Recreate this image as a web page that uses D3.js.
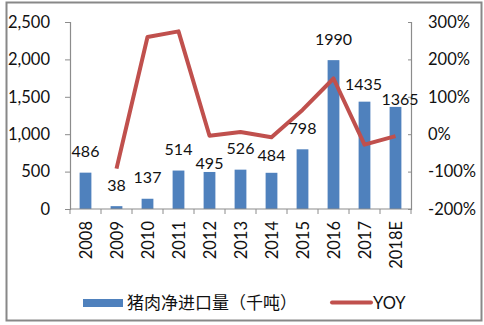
<!DOCTYPE html>
<html><head><meta charset="utf-8">
<script src="https://cdn.jsdelivr.net/npm/d3@7/dist/d3.min.js"></script>
<style>html,body{margin:0;padding:0;background:#fff;}svg{display:block;}</style>
</head><body><svg id="c" width="484" height="325"></svg>
<script>
const categories = ["2008","2009","2010","2011","2012","2013","2014","2015","2016","2017","2018E"];
const imports = [486,38,137,514,495,526,484,798,1990,1435,1365];
const yoy = [null,-92,260,275,-4,6,-8,65,149,-28,-5];
const leftTicks = [0,500,1000,1500,2000,2500];
const rightTicks = [-200,-100,0,100,200,300];
const seriesNames = ["猪肉净进口量（千吨）","YOY"];

const svg = d3.select("#c");
const font = "Lato, 'Liberation Sans', Arial, sans-serif";
const cjk = "'Noto Sans CJK SC', sans-serif";
const barColor = "#4F81BD", lineColor = "#C0504D", axisColor = "#8c8c8c";

svg.append("rect").attr("x",6.5).attr("y",2.5).attr("width",475).attr("height",318)
  .attr("fill","#fff").attr("stroke","#888").attr("stroke-width",2);

const x0 = 70, x1 = 411, yTop = 22, yBot = 209;
const x = d3.scaleBand().domain(categories).range([x0,x1]).paddingInner(0.62).paddingOuter(0.31);
const xc = d3.scalePoint().domain(categories).range([x0,x1]).padding(0.5);
const yL = d3.scaleLinear().domain([0,2500]).range([yBot,yTop]);
const yR = d3.scaleLinear().domain([-200,300]).range([yBot,yTop]);

// left axis
const gl = svg.append("g").attr("transform",`translate(${x0},0)`)
  .call(d3.axisLeft(yL).tickValues(leftTicks).tickFormat(d3.format(",")).tickSize(5).tickPadding(15));
// right axis
const gr = svg.append("g").attr("transform",`translate(${x1},0)`)
  .call(d3.axisRight(yR).tickValues(rightTicks).tickFormat(d=>d+"%").tickSize(-3).tickPadding(17));
[gl,gr].forEach(g=>{
  g.select(".domain").attr("stroke",axisColor).attr("stroke-width",1.2);
  g.selectAll(".tick line").attr("stroke",axisColor);
  g.selectAll(".tick text").attr("font-family",font).attr("font-size",16.5).attr("fill","#111");
});

// bars
svg.append("g").selectAll("rect").data(imports).join("rect")
  .attr("x",(d,i)=>x(categories[i])).attr("width",x.bandwidth())
  .attr("y",d=>yL(d)).attr("height",d=>yBot-yL(d)).attr("fill",barColor);

// x axis
const gx = svg.append("g").attr("transform",`translate(0,${yBot})`)
  .call(d3.axisBottom(xc).tickSize(0).tickPadding(0));
gx.select(".domain").remove();
svg.append("line").attr("x1",x0).attr("x2",x1).attr("y1",yBot).attr("y2",yBot).attr("stroke",axisColor).attr("stroke-width",1.2);
svg.append("g").selectAll("line").data(d3.range(categories.length+1)).join("line")
  .attr("x1",i=>x0+i*(x1-x0)/categories.length).attr("x2",i=>x0+i*(x1-x0)/categories.length)
  .attr("y1",yBot).attr("y2",yBot+5).attr("stroke",axisColor);
gx.selectAll(".tick text").attr("font-family",font).attr("font-size",16.5).attr("fill","#111")
  .attr("text-anchor","end").attr("dy","0.35em")
  .attr("transform","translate(0,12) rotate(-90)");

// line
const line = d3.line().defined(d=>d!==null).x((d,i)=>xc(categories[i])).y(d=>yR(d));
svg.append("path").datum(yoy).attr("d",line).attr("fill","none")
  .attr("stroke",lineColor).attr("stroke-width",4).attr("stroke-linejoin","round");

// data labels (Excel-style placement nudges)
const labelShift = {"2012":[0,12],"2014":[0,4],"2017":[-1,4],"2018E":[4.5,14]};
svg.append("g").selectAll("text").data(imports).join("text")
  .attr("x",(d,i)=>xc(categories[i]) + (labelShift[categories[i]]||[0,0])[0])
  .attr("y",(d,i)=>yL(d)-21+(labelShift[categories[i]]||[0,0])[1])
  .attr("dy","0.35em").attr("text-anchor","middle")
  .attr("font-family",font).attr("font-size",16).attr("fill","#111").text(d=>d);

// legend
const lg = svg.append("g");
lg.append("rect").attr("x",83).attr("y",299).attr("width",40).attr("height",8).attr("fill",barColor);
lg.append("text").attr("x",127).attr("y",303).attr("dy","0.35em").attr("font-family",cjk)
  .attr("font-size",17).attr("fill","#111").text(seriesNames[0]);
lg.append("line").attr("x1",332).attr("x2",371).attr("y1",302.5).attr("y2",302.5)
  .attr("stroke",lineColor).attr("stroke-width",4).attr("stroke-linecap","round");
lg.append("text").attr("x",373).attr("y",303).attr("dy","0.35em").attr("font-family",font)
  .attr("font-size",16.5).attr("fill","#111").text(seriesNames[1]);
</script></body></html>
